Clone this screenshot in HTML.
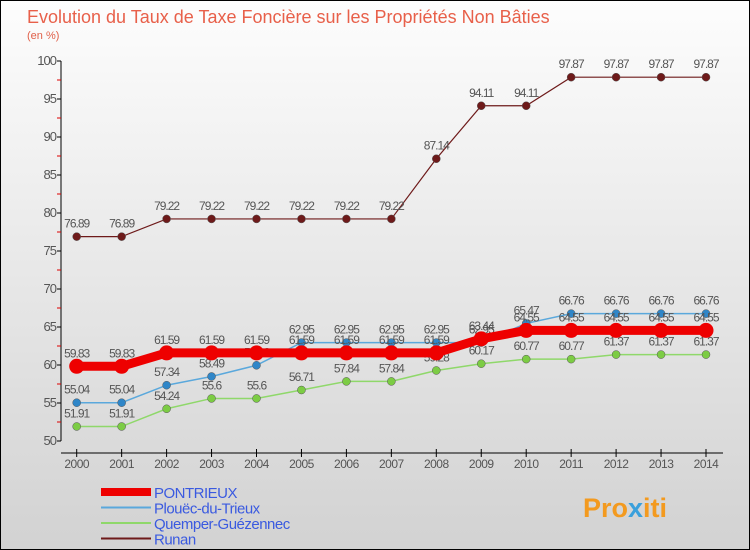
<!DOCTYPE html>
<html><head><meta charset="utf-8"><style>
body{margin:0}
#c{width:750px;height:550px;position:relative;box-sizing:border-box;border:1px solid #000;background:linear-gradient(#fdfdfd,#d2d2d2);font-family:"Liberation Sans",sans-serif;overflow:hidden}
svg text{font-family:"Liberation Sans",sans-serif}
</style></head><body>
<div id="c">
<svg id="s" width="750" height="550">
<text x="26" y="22" font-size="18" fill="#e8604a">Evolution du Taux de Taxe Foncière sur les Propriétés Non Bâties</text>
<text x="26" y="38" font-size="11" fill="#e0604a">(en %)</text>
<g id="ax"></g><g id="ser"></g><g id="leg"></g>
<text x="582" y="516" font-size="27" font-weight="bold" fill="#f39a1f">Pro<tspan fill="#3aa0dc">x</tspan>iti</text>
</svg></div>
<script>
const years=[2000,2001,2002,2003,2004,2005,2006,2007,2008,2009,2010,2011,2012,2013,2014];
const yTicks=[50,55,60,65,70,75,80,85,90,95,100];
const pontrieux=[59.83,59.83,61.59,61.59,61.59,61.59,61.59,61.59,61.59,63.44,64.55,64.55,64.55,64.55,64.55];
const plouec=[55.04,55.04,57.34,58.49,59.96,62.95,62.95,62.95,62.95,62.95,65.47,66.76,66.76,66.76,66.76];
const quemper=[51.91,51.91,54.24,55.6,55.6,56.71,57.84,57.84,59.28,60.17,60.77,60.77,61.37,61.37,61.37];
const runan=[76.89,76.89,79.22,79.22,79.22,79.22,79.22,79.22,87.14,94.11,94.11,97.87,97.87,97.87,97.87];
const names=["PONTRIEUX","Plouëc-du-Trieux","Quemper-Guézennec","Runan"];
const NS="http://www.w3.org/2000/svg";
const X=i=>75.7+i*(705-75.7)/(years.length-1);
const Y=v=>440-(v-50)*7.6;
function mk(t,a,p){const e=document.createElementNS(NS,t);for(const k in a)e.setAttribute(k,a[k]);p.appendChild(e);return e;}
const ax=document.getElementById('ax');
let l=mk('line',{x1:60,y1:60,x2:60,y2:440,stroke:'#000'},ax);


l=mk('line',{x1:60,y1:452,x2:722,y2:452,stroke:'#000'},ax);


yTicks.forEach(v=>{
 mk('line',{x1:56,y1:Y(v),x2:60,y2:Y(v),stroke:'#000'},ax);
 if(v<100)mk('line',{x1:56,y1:Y(v+2.5),x2:60,y2:Y(v+2.5),stroke:'#d00'},ax);
 const t=mk('text',{x:55,y:Y(v)+4,'font-size':13,fill:'#555','text-anchor':'end','letter-spacing':'-1'},ax);
 t.textContent=v;
 
 
});
years.forEach((y,i)=>{
 mk('line',{x1:X(i),y1:448,x2:X(i),y2:456,stroke:'#000'},ax);
 const t=mk('text',{x:X(i),y:467,'font-size':12,fill:'#555','text-anchor':'middle','letter-spacing':'-0.5'},ax);
 t.textContent=y;
 
 
});
const ser=document.getElementById('ser');
const defs=[[runan,'#6e1a1a',1.2,4,'runan'],[quemper,'#8fd86a',1.5,4,'quemper'],[plouec,'#5aa8dc',1.5,4,'plouec'],[pontrieux,'#ee0000',9,7.5,'pontrieux']];
const mcol={runan:'#6e1a1a',quemper:'#7ccc44',plouec:'#2f86c8',pontrieux:'#ee0000'};
defs.forEach(([d,c,w,r,n])=>{
 const g=mk('g',{},ser);
 
 
 const p=mk('polyline',{points:d.map((v,i)=>X(i)+','+Y(v)).join(' '),fill:'none',stroke:c,'stroke-width':w},g);
 
 
 d.forEach((v,i)=>{
  const m=mk('circle',{cx:X(i),cy:Y(v),r:r,fill:mcol[n],stroke:n=='pontrieux'?'none':'#555','stroke-width':0.5},g);
  
  
  const t=mk('text',{x:X(i),y:Y(v)-9,'font-size':12,fill:'#555','text-anchor':'middle','letter-spacing':'-1'},g);
  t.textContent=v;
  
  
 });
});
const leg=document.getElementById('leg');
const lc=['#ee0000','#5aa8dc','#8fd86a','#6e1a1a'],lw=[8,2,2,2];
names.forEach((n,i)=>{
 const y=491+i*15.5;
 const g=mk('g',{},leg);
 
 
 mk('line',{x1:100,y1:y,x2:150,y2:y,stroke:lc[i],'stroke-width':lw[i]},g);
 const t=mk('text',{x:153,y:y+6,'font-size':15,fill:'#3a5ae0','letter-spacing':'-0.5'},g);
 t.textContent=n;
});
</script>
</body></html>
